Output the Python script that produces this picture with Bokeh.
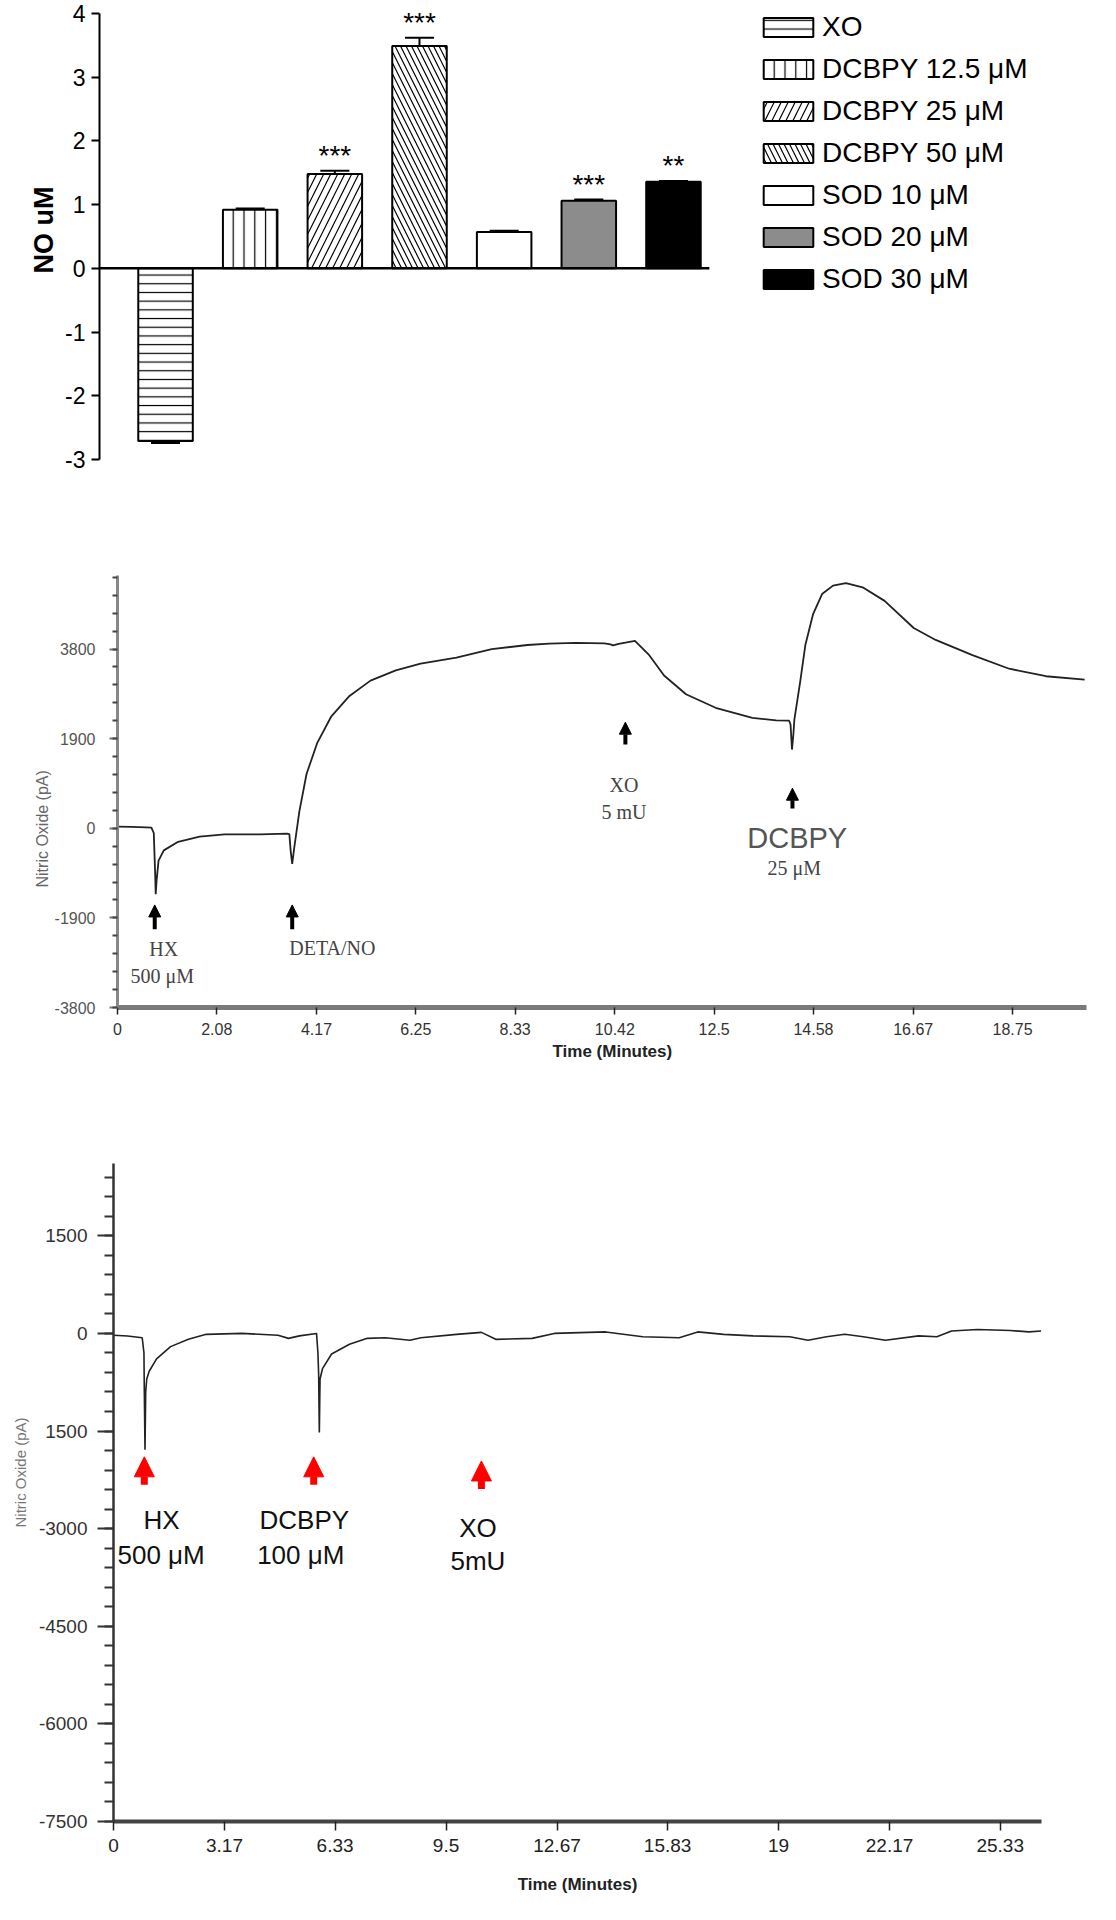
from bokeh.plotting import figure
from bokeh.models import (ColumnDataSource, Whisker, TeeHead, Legend, LegendItem, Title,
                          FixedTicker, SingleIntervalTicker, Arrow, NormalHead, Range1d)
from bokeh.layouts import column, row
from bokeh.core.properties import value
from bokeh.embed import file_html
from bokeh.resources import INLINE

# ---------------- Panel A data ----------------
bar_labels = ["XO", "DCBPY 12.5 μM", "DCBPY 25 μM", "DCBPY 50 μM",
              "SOD 10 μM", "SOD 20 μM", "SOD 30 μM"]
no_um = [-2.71, 0.92, 1.48, 3.49, 0.57, 1.06, 1.36]
no_err = [0.03, 0.02, 0.05, 0.13, 0.02, 0.02, 0.01]
stars = ["", "", "***", "***", "", "***", "**"]
ytick_a = [-3, -2, -1, 0, 1, 2, 3, 4]

# ---------------- Panel B data (minutes, pA) ----------------
t_b = [0.00, 0.30, 0.60, 0.71, 0.76, 0.79, 0.80, 0.82, 0.86, 0.97, 1.27, 1.72, 2.24, 2.99,
       3.55, 3.60, 3.63, 3.66, 3.70, 3.81, 3.96, 4.18, 4.48, 4.86, 5.30, 5.83, 6.35, 7.10,
       7.84, 8.59, 9.04, 9.60, 10.20, 10.33, 10.38, 10.50, 10.84, 11.14, 11.45, 11.91, 12.53,
       13.30, 13.80, 14.07, 14.10, 14.13, 14.16, 14.18, 14.30, 14.41, 14.57, 14.76, 14.99,
       15.26, 15.61, 16.07, 16.68, 17.14, 17.91, 18.68, 19.45, 20.26]
no_b = [37, 30, 20, 15, -100, -1000, -1400, -1100, -684, -468, -287, -179, -129, -129,
        -115, -125, -500, -756, -432, 360, 1151, 1799, 2375, 2807, 3131, 3347, 3490, 3620,
        3800, 3886, 3914, 3930, 3920, 3901, 3880, 3910, 3973, 3670, 3239, 2843, 2555,
        2339, 2290, 2281, 2200, 1669, 2000, 2303, 3094, 3886, 4534, 4966, 5146,
        5196, 5110, 4822, 4247, 3994, 3670, 3383, 3224, 3152]
xtick_b = ["0", "2.08", "4.17", "6.25", "8.33", "10.42", "12.5", "14.58", "16.67", "18.75"]
ytick_b = [-3800, -1900, 0, 1900, 3800]
arrow_b_t = [0.78, 3.66, 10.64, 14.14]
arrow_b_tip = [-1625, -1625, 2250, 850]
arrow_b_tail = [-2142, -2142, 1776, 420]
serif_b_text = ["HX", "500 μM", "DETA/NO", "XO", "5 mU", "25 μM"]
serif_b_t = [0.97, 0.94, 4.50, 10.61, 10.61, 14.18]
serif_b_y = [-2551, -3133, -2530, 915, 340, -844]
sans_b_text = ["DCBPY"]
sans_b_t = [14.24]
sans_b_y = [-205]

# ---------------- Panel C data (minutes, pA) ----------------
t_c = [0.00, 0.40, 0.82, 0.87, 0.88, 0.90, 0.92, 0.95, 1.02, 1.23, 1.63, 2.14, 2.65, 3.67,
       4.70, 5.00, 5.31, 5.80, 5.84, 5.86, 5.88, 5.90, 5.97, 6.23, 6.74, 7.25, 7.76, 8.47,
       8.78, 9.80, 10.51, 10.92, 11.96, 12.59, 14.06, 15.12, 16.16, 16.69, 17.43, 18.27,
       19.32, 19.84, 20.37, 20.89, 21.42, 22.05, 23.00, 23.52, 23.94, 24.68, 25.62, 26.15, 26.50]
no_c = [-29, -40, -67, -300, -882, -1788, -900, -700, -581, -390, -203, -91, -14, 0,
        -29, -76, -38, 0, -300, -618, -1524, -700, -542, -316, -166, -76, -67, -105,
        -67, -14, 16, -91, -76, 0, 23, -52, -67, 23, -14, -38,
        -52, -105, -52, -14, -52, -105, -38, -52, 38, 60, 45, 23, 38]
xtick_c = ["0", "3.17", "6.33", "9.5", "12.67", "15.83", "19", "22.17", "25.33"]
ytick_c = [-7500, -6000, -4500, -3000, -1500, 0, 1500]
ytick_c_text = ["-7500", "-6000", "-4500", "-3000", "1500", "0", "1500"]
arrow_c_t = [0.88, 5.72, 10.51]
arrow_c_tip = [-1896, -1896, -1960]
arrow_c_tail = [-2326, -2326, -2390]
lab_c_text = ["HX", "500 μM", "DCBPY", "100 μM", "XO", "5mU"]
lab_c_t = [1.37, 1.36, 5.45, 5.35, 10.41, 10.41]
lab_c_y = [-2863, -3401, -2863, -3401, -2995, -3500]

SANS = "Liberation Sans"
SERIF = "Liberation Serif"


def side_title(text, offset, size, color, style, standoff=2):
    """A side/bottom caption that starts `offset` px from the frame's start edge."""
    return Title(text=text, align="left", offset=offset, vertical_align="middle",
                 text_font=SANS, text_font_size=size, text_font_style=style,
                 text_color=color, standoff=standoff)


# ================= Panel A =================
bar_fill = ["white", "white", "white", "white", "white", "#8c8c8c", "black"]
bar_hatch = ["horizontal_line", "vertical_line", "right_diagonal_line", "left_diagonal_line",
             "blank", "blank", "blank"]
bar_hscale = [8.7, 10.8, 14.0, 11.0, 12.0, 12.0, 12.0]

n_bars = len(no_um)
xs = list(range(1, n_bars + 1))
lo, hi = [], []
for v, e in zip(no_um, no_err):
    end = v + e if v >= 0 else v - e
    lo.append(min(v, end))
    hi.append(max(v, end))
star_y = [v + e if v >= 0 else 0 for v, e in zip(no_um, no_err)]

src_a = ColumnDataSource(dict(x=xs, top=no_um, fill=bar_fill, hatch=bar_hatch,
                              hscale=bar_hscale, lo=lo, hi=hi, star=stars, sy=star_y))

xa_start = 0.22
xa_end = 11.95
pa = figure(width=1100, height=474, x_range=Range1d(xa_start, xa_end), y_range=Range1d(-3, 4.204),
            x_axis_location=None, output_backend="svg", toolbar_location=None,
            min_border_left=99, min_border_right=8, min_border_top=0, min_border_bottom=15)
pa.outline_line_color = None
pa.grid.visible = False

wh = Whisker(source=src_a, base="x", lower="lo", upper="hi", line_width=2, line_color="black",
             upper_head=TeeHead(size=29, line_width=2, line_color="black"),
             lower_head=TeeHead(size=29, line_width=2, line_color="black"))
pa.add_layout(wh)

bars = pa.vbar(x="x", top="top", bottom=0, width=0.644, source=src_a,
               fill_color="fill", line_color="black", line_width=2,
               hatch_pattern="hatch", hatch_scale="hscale", hatch_color="black", hatch_weight=1.2)

# zero baseline (the x axis line of the bar chart)
pa.segment(x0=[xa_start], x1=[n_bars + 0.424], y0=[0], y1=[0], line_color="black", line_width=2.5)

pa.text(x="x", y="sy", text="star", source=src_a, text_align="center", text_baseline="bottom",
        text_font=value(SANS), text_font_size="28px", text_color="black")

ya = pa.yaxis[0]
ya.bounds = (min(ytick_a), max(ytick_a))
ya.ticker = FixedTicker(ticks=ytick_a)
ya.major_label_overrides = {t: str(t) for t in ytick_a}
ya.major_label_text_font = SANS
ya.major_label_text_font_size = "23px"
ya.major_label_text_color = "black"
ya.major_label_standoff = 6
ya.axis_line_width = 2
ya.major_tick_line_width = 2
ya.major_tick_out = 8
ya.major_tick_in = 0
ya.minor_tick_line_color = None
ya.axis_label = "NO uM"
ya.axis_label_text_font = SANS
ya.axis_label_text_font_size = "27px"
ya.axis_label_text_font_style = "bold"
ya.axis_label_text_color = "black"
ya.axis_label_standoff = 3

items = [LegendItem(label=bar_labels[i], renderers=[bars], index=i) for i in range(n_bars)]
leg = Legend(items=items, location=(658, 164), glyph_width=62, glyph_height=24,
             label_text_font=SANS, label_text_font_size="28px", label_text_color="black",
             spacing=10, padding=0, margin=0, label_standoff=3,
             border_line_color=None, background_fill_alpha=0)
pa.add_layout(leg)

# ================= Panel B =================
pb = figure(width=1100, height=593, x_range=Range1d(0, 20.3), y_range=Range1d(-3800, 5360),
            output_backend="svg", toolbar_location=None,
            min_border_left=117, min_border_right=14, min_border_top=101, min_border_bottom=60)
pb.outline_line_color = None
pb.grid.visible = False
pb.line(t_b, no_b, line_color="#222222", line_width=1.8)

xb = pb.xaxis[0]
xb.ticker = FixedTicker(ticks=[float(s) for s in xtick_b])
xb.major_label_overrides = {float(s): s for s in xtick_b}
xb.axis_line_color = "#7a7a7a"
xb.axis_line_width = 5
xb.major_tick_out = 7
xb.major_tick_in = 0
xb.major_tick_line_width = 1.5
xb.major_tick_line_color = "#222222"
xb.minor_tick_line_color = None
xb.major_label_text_font = SANS
xb.major_label_text_font_size = "16px"
xb.major_label_text_color = "#333333"
xb.major_label_standoff = 8
pb.add_layout(side_title("Time (Minutes)", 435, "17px", "#222222", "bold", 6), "below")

yb = pb.yaxis[0]
yb.ticker = SingleIntervalTicker(interval=1900, num_minor_ticks=5)
yb.major_label_overrides = {t: str(t) for t in ytick_b}
yb.axis_line_color = "#888888"
yb.axis_line_width = 3
yb.major_tick_out = 8
yb.major_tick_in = 0
yb.major_tick_line_color = "#777777"
yb.major_tick_line_width = 2
yb.minor_tick_out = 5
yb.minor_tick_in = 0
yb.minor_tick_line_color = "#444444"
yb.minor_tick_line_width = 2
yb.major_label_text_font = SANS
yb.major_label_text_font_size = "16px"
yb.major_label_text_color = "#555555"
yb.major_label_standoff = 14
pb.add_layout(side_title("Nitric Oxide (pA)", 120, "16px", "#666666", "normal", 0), "left")

arr_b = ColumnDataSource(dict(x=arrow_b_t, y0=arrow_b_tail, y1=arrow_b_tip))
pb.add_layout(Arrow(source=arr_b, x_start="x", y_start="y0", x_end="x", y_end="y1",
                    line_width=4, line_color="black",
                    end=NormalHead(size=12, fill_color="black", line_color="black", line_width=1)))
pb.text(x=serif_b_t, y=serif_b_y, text=serif_b_text, text_align="center", text_baseline="middle",
        text_font=value(SERIF), text_font_size="20px", text_color="#444444")
pb.text(x=sans_b_t, y=sans_b_y, text=sans_b_text, text_align="center", text_baseline="middle",
        text_font=value(SANS), text_font_size="29px", text_color="#555555")

# ================= Panel C =================
pc = figure(width=1100, height=837, x_range=Range1d(0, 26.51), y_range=Range1d(-7500, 2611),
            output_backend="svg", toolbar_location=None,
            min_border_left=113, min_border_right=59, min_border_top=96, min_border_bottom=83)
pc.outline_line_color = None
pc.grid.visible = False
pc.line(t_c, no_c, line_color="#222222", line_width=1.6)

xc = pc.xaxis[0]
xc.ticker = FixedTicker(ticks=[float(s) for s in xtick_c])
xc.major_label_overrides = {float(s): s for s in xtick_c}
xc.axis_line_color = "#444444"
xc.axis_line_width = 4
xc.major_tick_out = 9
xc.major_tick_in = 0
xc.major_tick_line_width = 1.5
xc.major_tick_line_color = "#222222"
xc.minor_tick_line_color = None
xc.major_label_text_font = SANS
xc.major_label_text_font_size = "19px"
xc.major_label_text_color = "#222222"
xc.major_label_standoff = 8
xc.axis_label = "Time (Minutes)"
xc.axis_label_text_font = SANS
xc.axis_label_text_font_style = "bold"
xc.axis_label_text_font_size = "17px"
xc.axis_label_text_color = "#222222"
xc.axis_label_standoff = 20

yc = pc.yaxis[0]
yc.ticker = SingleIntervalTicker(interval=1500, num_minor_ticks=5)
yc.major_label_overrides = {t: s for t, s in zip(ytick_c, ytick_c_text)}
yc.axis_line_color = "#333333"
yc.axis_line_width = 2.5
yc.major_tick_out = 16
yc.major_tick_in = 0
yc.major_tick_line_color = "#333333"
yc.major_tick_line_width = 2
yc.minor_tick_out = 9
yc.minor_tick_in = 0
yc.minor_tick_line_color = "#333333"
yc.minor_tick_line_width = 2
yc.major_label_text_font = SANS
yc.major_label_text_font_size = "19px"
yc.major_label_text_color = "#333333"
yc.major_label_standoff = 10
pc.add_layout(side_title("Nitric Oxide (pA)", 294, "15px", "#777777", "normal", 12), "left")

arr_c = ColumnDataSource(dict(x=arrow_c_t, y0=arrow_c_tail, y1=arrow_c_tip))
pc.add_layout(Arrow(source=arr_c, x_start="x", y_start="y0", x_end="x", y_end="y1",
                    line_width=7, line_color="#ff0000",
                    end=NormalHead(size=20, fill_color="#ff0000", line_color="#ff0000", line_width=1)))
pc.text(x=lab_c_t, y=lab_c_y, text=lab_c_text, text_align="center", text_baseline="middle",
        text_font=value(SANS), text_font_size="26px", text_color="#111111")

layout = column(row(pa), row(pb), row(pc))
open("out.html", "w").write(file_html(layout, INLINE))
